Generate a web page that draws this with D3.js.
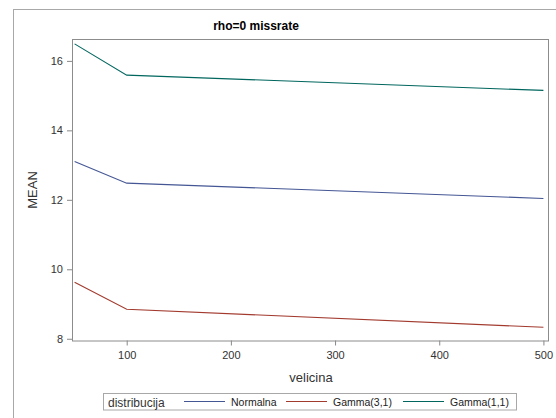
<!DOCTYPE html>
<html><head><meta charset="utf-8">
<script src="https://cdn.jsdelivr.net/npm/d3@7"></script>
<style>body{margin:0;background:#fff}svg{display:block;font-family:"Liberation Sans",Arial,sans-serif}</style>
</head><body>
<svg id="c" width="556" height="418"></svg>
<script>
const velicina = [50, 100, 500];
const normalna = [13.10, 12.48, 12.04];
const gamma31 = [9.63, 8.85, 8.33];
const gamma11 = [16.49, 15.59, 15.15];
const seriesNames = ["Normalna", "Gamma(3,1)", "Gamma(1,1)"];
const seriesColors = ["#445694", "#A23A2E", "#01665E"];
const xTicks = [100, 200, 300, 400, 500];
const yTicks = [8, 10, 12, 14, 16];

const svg = d3.select("#c");
const L = 72, R = 548, T = 39, B = 340.5;
const x = d3.scaleLinear().domain([47.5, 504.4]).range([L, R]);
const y = d3.scaleLinear().domain([7.95, 16.63]).range([B, T]);

// outer frame
svg.append("rect").attr("x", 13.5).attr("y", 9.5).attr("width", 560).attr("height", 420)
  .attr("fill", "none").attr("stroke", "#a8a8a8").attr("stroke-width", 1);

svg.append("text").attr("x", 256).attr("y", 30).attr("text-anchor", "middle")
  .attr("font-size", 12).attr("font-weight", "bold").attr("fill", "#000").text("rho=0 missrate");

// axes
const xAxis = svg.append("g").attr("transform", `translate(0,${B})`)
  .call(d3.axisBottom(x).tickValues(xTicks).tickSize(5).tickPadding(6));
const yAxis = svg.append("g").attr("transform", `translate(${L},0)`)
  .call(d3.axisLeft(y).tickValues(yTicks).tickSize(5).tickPadding(4));
[xAxis, yAxis].forEach(g => {
  g.select(".domain").remove();
  g.selectAll("line").attr("stroke", "#888");
  g.selectAll("text").attr("font-size", 11).attr("fill", "#333")
   .attr("font-family", "'Liberation Sans',Arial,sans-serif");
});

// plot frame
svg.append("rect").attr("x", L + 0.5).attr("y", T + 0.5).attr("width", R - L).attr("height", B - T)
  .attr("fill", "none").attr("stroke", "#8c8c8c");

svg.append("text").attr("x", 311).attr("y", 382).attr("text-anchor", "middle")
  .attr("font-size", 13).attr("fill", "#333").text("velicina");
svg.append("text").attr("transform", "translate(37,190) rotate(-90)").attr("text-anchor", "middle")
  .attr("font-size", 13).attr("fill", "#333").text("MEAN");

const data = [normalna, gamma31, gamma11];
const line = d3.line().x((d, i) => x(velicina[i])).y(d => y(d));
data.forEach((s, k) => {
  svg.append("path").datum(s).attr("d", line).attr("fill", "none")
    .attr("stroke", seriesColors[k]).attr("stroke-width", 1.1);
});

// legend
const lg = svg.append("g");
lg.append("rect").attr("x", 103.5).attr("y", 393.5).attr("width", 413).attr("height", 16.5)
  .attr("fill", "none").attr("stroke", "#a8a8a8");
lg.append("text").attr("x", 108).attr("y", 406.5).attr("font-size", 12).attr("fill", "#333").text("distribucija");
const lx = [184, 286, 403];
seriesNames.forEach((n, k) => {
  lg.append("line").attr("x1", lx[k]).attr("x2", lx[k] + 41).attr("y1", 401.5).attr("y2", 401.5)
    .attr("stroke", seriesColors[k]).attr("stroke-width", 1);
  lg.append("text").attr("x", lx[k] + 47).attr("y", 406).attr("font-size", 10.5).attr("fill", "#222").text(n);
});
</script>
</body></html>
